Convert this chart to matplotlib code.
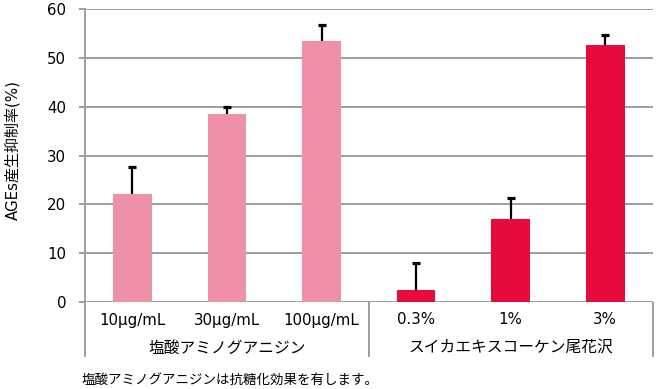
import matplotlib
matplotlib.use("Agg")
import matplotlib.pyplot as plt
import numpy as np

plt.rcParams['font.family'] = ['DejaVu Sans', 'Noto Sans CJK JP']
JP = ['Noto Sans CJK JP', 'DejaVu Sans']

categories = ["10μg/mL", "30μg/mL", "100μg/mL", "0.3%", "1%", "3%"]
values = [22.1, 38.5, 53.5, 2.5, 17.0, 52.7]
errors = [5.6, 1.5, 3.3, 5.5, 4.3, 2.0]
colors = ["#EE90A8", "#EE90A8", "#EE90A8", "#E60B3C", "#E60B3C", "#E60B3C"]
groups = ["塩酸アミノグアニジン", "スイカエキスコーケン尾花沢"]
group_sizes = [3, 3]
yticks = [0, 10, 20, 30, 40, 50, 60]
ylabel = "AGEs産生抑制率(%)"
footnote = "塩酸アミノグアニジンは抗糖化効果を有します。"

W, H = 656, 389
fig = plt.figure(figsize=(W / 100, H / 100), dpi=100)
ax = fig.add_axes([85 / W, 1 - 302 / H, (652.6 - 85) / W, 293 / H])

gray = "#A0A0A0"
lw = 1.45
x = np.arange(len(categories))

ax.set_xlim(-0.5, len(categories) - 0.5)
ax.set_ylim(0, 60)
ax.set_yticks(yticks)
ax.set_yticklabels([str(t) for t in yticks], fontsize=10.8)
for t in yticks:
    ax.axhline(t, color=gray, lw=lw, zorder=1)
ax.tick_params(axis='y', length=4.3, width=lw, color=gray, pad=9.2)
ax.set_xticks([])
for s in ['top', 'right', 'bottom']:
    ax.spines[s].set_visible(False)
ax.spines['left'].set_color(gray)
ax.spines['left'].set_linewidth(lw)

ax.bar(x, values, width=0.41, color=colors, zorder=2)
vals = np.array(values)
errs = np.array(errors)
ax.vlines(x, vals, vals + errs, color="black", lw=1.6, zorder=3)
ax.plot(x, vals + errs, ls='none', marker='_', markersize=5.5, mew=2.3, color="black", zorder=3)

trans = ax.get_xaxis_transform()
bottom = -(357 - 302) / 293
bounds = np.concatenate([[0], np.cumsum(group_sizes)]) - 0.5
for b in bounds:
    ax.plot([b, b], [0, bottom], color=gray, lw=lw, transform=trans, clip_on=False,
            solid_capstyle='butt')

for xi, lab in zip(x, categories):
    ax.text(xi, -(320 - 302) / 293, lab, transform=trans, ha='center', va='center',
            fontsize=10.8)
for i, g in enumerate(groups):
    c = (bounds[i] + bounds[i + 1]) / 2
    ax.text(c, -(348 - 302) / 293, g, transform=trans, ha='center', va='center',
            fontsize=11.3, family=JP)

fig.text(13 / W, 1 - 150 / H, ylabel, rotation=90, ha='center', va='center',
         fontsize=10.8)
fig.text(82 / W, 1 - 380 / H, footnote, ha='left', va='center', fontsize=9.7,
         family=JP)

fig.savefig("out.png", dpi=100)
